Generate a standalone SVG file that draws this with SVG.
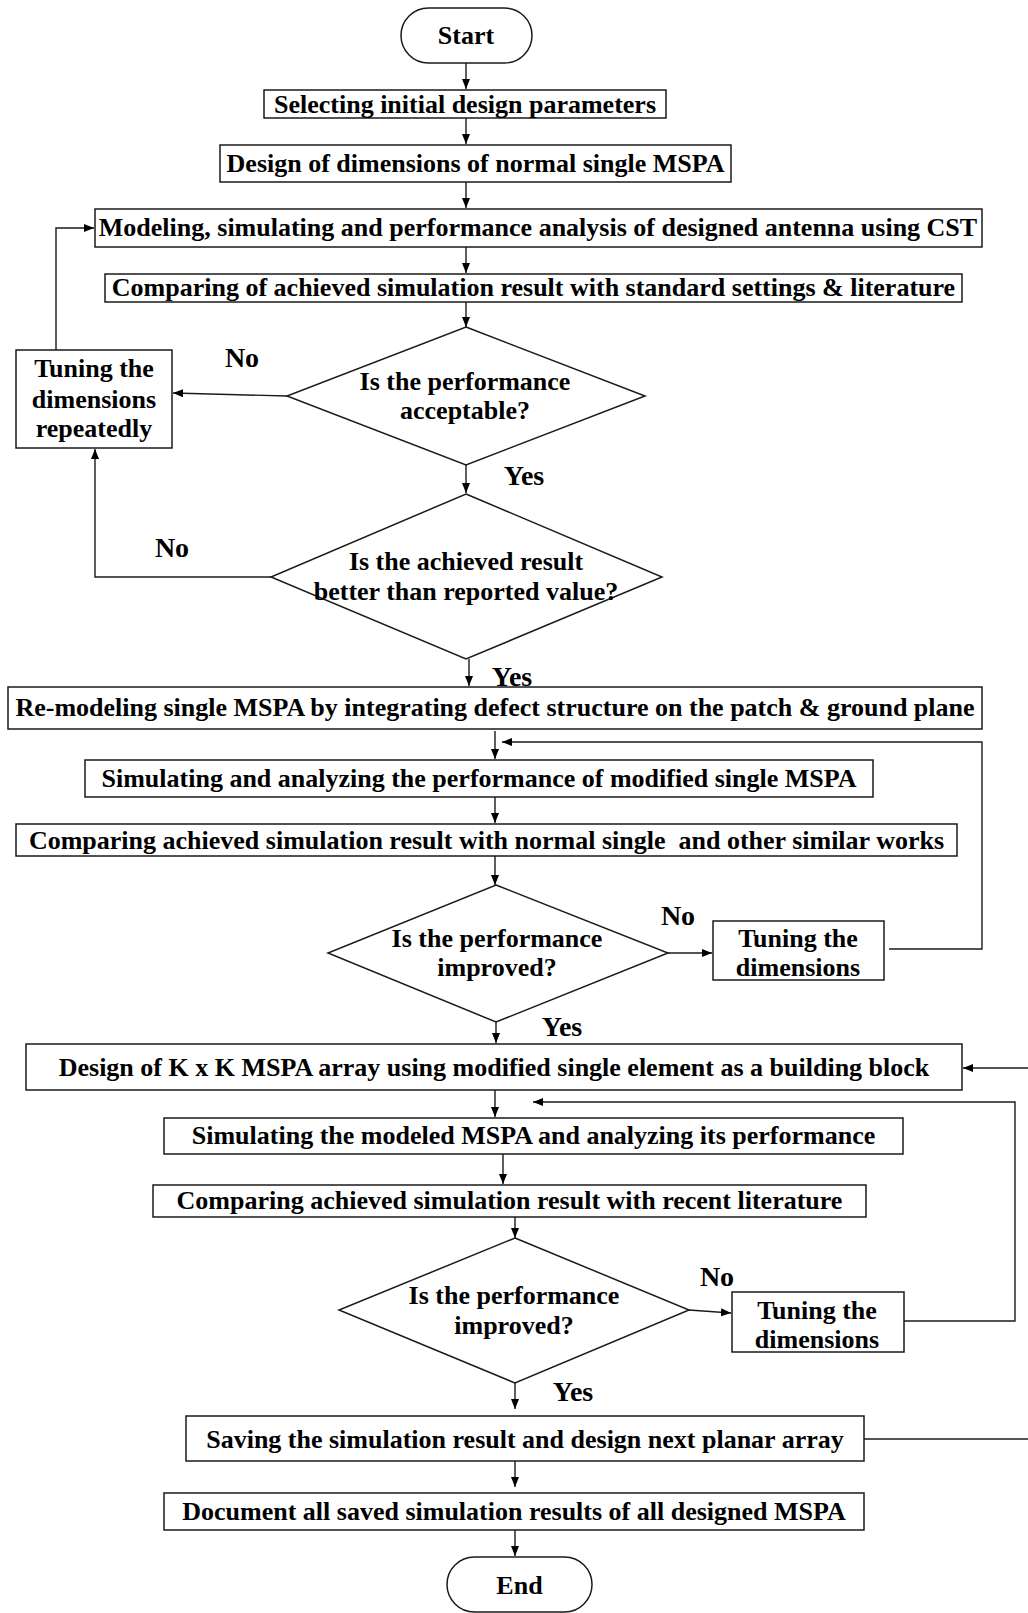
<svg xmlns="http://www.w3.org/2000/svg" width="1028" height="1613" viewBox="0 0 1028 1613">
<style>
.b{fill:#fff;stroke:#1a1a1a;stroke-width:1.5}
.t{font-family:"Liberation Serif","Times New Roman",serif;font-weight:bold;font-size:26px;text-anchor:middle;fill:#000}
.l{font-family:"Liberation Serif","Times New Roman",serif;font-weight:bold;font-size:28px;text-anchor:middle;fill:#000}
.c{fill:none;stroke:#1a1a1a;stroke-width:1.4}
</style>
<defs>
<marker id="ah" viewBox="0 0 10 10" refX="10" refY="5" markerWidth="10" markerHeight="10" markerUnits="userSpaceOnUse" orient="auto">
<path d="M0,1 L10,5 L0,9 Z" fill="#000"/>
</marker>
</defs>
<rect width="1028" height="1613" fill="#fff"/>
<g id="connectors">
<path class="c" d="M466,63 V89" marker-end="url(#ah)"/>
<path class="c" d="M466,118 V144" marker-end="url(#ah)"/>
<path class="c" d="M466,182 V208" marker-end="url(#ah)"/>
<path class="c" d="M466,247 V273" marker-end="url(#ah)"/>
<path class="c" d="M466,302 V327" marker-end="url(#ah)"/>
<path class="c" d="M287,396 L173,393" marker-end="url(#ah)"/>
<path class="c" d="M56,350 V228 H94" marker-end="url(#ah)"/>
<path class="c" d="M466,465 V493" marker-end="url(#ah)"/>
<path class="c" d="M271,577 H95 V449" marker-end="url(#ah)"/>
<path class="c" d="M469,659 V686" marker-end="url(#ah)"/>
<path class="c" d="M495,731 V759" marker-end="url(#ah)"/>
<path class="c" d="M889,949 H982 V742 H502" marker-end="url(#ah)"/>
<path class="c" d="M495,797 V823" marker-end="url(#ah)"/>
<path class="c" d="M495,856 V885" marker-end="url(#ah)"/>
<path class="c" d="M668,953 H712" marker-end="url(#ah)"/>
<path class="c" d="M496,1022 V1043" marker-end="url(#ah)"/>
<path class="c" d="M1028,1068 H963" marker-end="url(#ah)"/>
<path class="c" d="M495,1090 V1117" marker-end="url(#ah)"/>
<path class="c" d="M904,1321 H1015 V1102 H533" marker-end="url(#ah)"/>
<path class="c" d="M503,1154 V1184" marker-end="url(#ah)"/>
<path class="c" d="M515,1217 V1238" marker-end="url(#ah)"/>
<path class="c" d="M689,1310 L731,1313" marker-end="url(#ah)"/>
<path class="c" d="M515,1383 V1409" marker-end="url(#ah)"/>
<path class="c" d="M864,1439 H1028"/>
<path class="c" d="M515,1461 V1487" marker-end="url(#ah)"/>
<path class="c" d="M515,1530 V1556" marker-end="url(#ah)"/>
</g>
<g id="start"><rect class="b" x="401" y="8" width="131" height="55" rx="27.5"/><text class="t" x="466" y="44">Start</text></g>
<g id="n1"><rect class="b" x="264" y="90" width="402" height="28"/><text class="t" x="465" y="113">Selecting initial design parameters</text></g>
<g id="n2"><rect class="b" x="220" y="145" width="511" height="37"/><text class="t" x="475.5" y="172">Design of dimensions of normal single MSPA</text></g>
<g id="n3"><rect class="b" x="95" y="209" width="887" height="38"/><text class="t" x="538" y="236">Modeling, simulating and performance analysis of designed antenna using CST</text></g>
<g id="n4"><rect class="b" x="105" y="274" width="857" height="28"/><text class="t" x="533.5" y="296">Comparing of achieved simulation result with standard settings &amp; literature</text></g>
<g id="d1"><polygon class="b" points="466,327 645,396 466,465 287,396"/><text class="t" x="465" y="390">Is the performance</text><text class="t" x="465" y="419">acceptable?</text></g>
<g id="tune1"><rect class="b" x="16" y="350" width="156" height="98"/><text class="t" x="94" y="377">Tuning the</text><text class="t" x="94" y="408">dimensions</text><text class="t" x="94" y="437">repeatedly</text></g>
<g id="d2"><polygon class="b" points="466,494 662,577 466,659 271,577"/><text class="t" x="466" y="570">Is the achieved result</text><text class="t" x="466" y="600">better than reported value?</text></g>
<g id="n5"><rect class="b" x="8" y="687" width="974" height="42"/><text class="t" x="495" y="716">Re-modeling single MSPA by integrating defect structure on the patch &amp; ground plane</text></g>
<g id="n6"><rect class="b" x="85" y="760" width="788" height="37"/><text class="t" x="479" y="787">Simulating and analyzing the performance of modified single MSPA</text></g>
<g id="n7"><rect class="b" x="16" y="824" width="941" height="32"/><text class="t" x="486.5" y="849" xml:space="preserve">Comparing achieved simulation result with normal single  and other similar works</text></g>
<g id="d3"><polygon class="b" points="496,885 668,953 496,1022 328,953"/><text class="t" x="497" y="947">Is the performance</text><text class="t" x="497" y="976">improved?</text></g>
<g id="tune2"><rect class="b" x="713" y="921" width="171" height="59"/><text class="t" x="798" y="947">Tuning the</text><text class="t" x="798" y="976">dimensions</text></g>
<g id="n8"><rect class="b" x="26" y="1044" width="936" height="46"/><text class="t" x="494" y="1076">Design of K x K MSPA array using modified single element as a building block</text></g>
<g id="n9"><rect class="b" x="164" y="1118" width="739" height="36"/><text class="t" x="533.5" y="1144">Simulating the modeled MSPA and analyzing its performance</text></g>
<g id="n10"><rect class="b" x="153" y="1185" width="713" height="32"/><text class="t" x="509.5" y="1209">Comparing achieved simulation result with recent literature</text></g>
<g id="d4"><polygon class="b" points="515,1238 689,1310 515,1383 339,1310"/><text class="t" x="514" y="1304">Is the performance</text><text class="t" x="514" y="1334">improved?</text></g>
<g id="tune3"><rect class="b" x="732" y="1292" width="172" height="60"/><text class="t" x="817" y="1319">Tuning the</text><text class="t" x="817" y="1348">dimensions</text></g>
<g id="n11"><rect class="b" x="186" y="1416" width="678" height="45"/><text class="t" x="525" y="1448">Saving the simulation result and design next planar array</text></g>
<g id="n12"><rect class="b" x="164" y="1493" width="700" height="37"/><text class="t" x="514" y="1520">Document all saved simulation results of all designed MSPA</text></g>
<g id="end"><rect class="b" x="447" y="1557" width="145" height="55" rx="27.5"/><text class="t" x="519.5" y="1594">End</text></g>
<g id="labels">
<text class="l" x="242" y="367">No</text>
<text class="l" x="524" y="485">Yes</text>
<text class="l" x="172" y="557">No</text>
<text class="l" x="512" y="686">Yes</text>
<text class="l" x="678" y="925">No</text>
<text class="l" x="562" y="1036">Yes</text>
<text class="l" x="717" y="1286">No</text>
<text class="l" x="573" y="1401">Yes</text>
</g>
</svg>
